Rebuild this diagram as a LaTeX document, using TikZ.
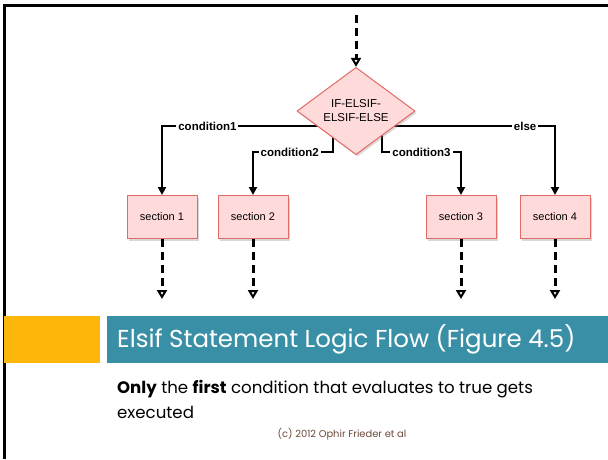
\documentclass[tikz,border=0pt]{standalone}
\usepackage{fontspec}
\setmainfont{Poppins}
\newfontfamily\chartfont{Liberation Sans}
\usepackage{xcolor}
\usetikzlibrary{shapes,arrows.meta,positioning,calc,shadows,backgrounds}

\definecolor{boxfill}{RGB}{255,218,218}
\definecolor{boxline}{RGB}{226,106,100}
\definecolor{bandorange}{RGB}{253,182,10}
\definecolor{bandteal}{RGB}{57,143,165}
\definecolor{notebrown}{RGB}{110,74,60}

\tikzset{
    block/.style={rectangle, draw=boxline, fill=boxfill, line width=1pt,
        minimum width=70pt, minimum height=43pt,
        font=\chartfont\fontsize{11}{13}\selectfont,
        drop shadow={opacity=0.3, shadow xshift=1.5pt, shadow yshift=-2pt}},
    decision/.style={diamond, draw=boxline, fill=boxfill, line width=1pt,
        minimum width=118pt, minimum height=68pt, inner sep=0pt, align=center,
        font=\chartfont\fontsize{11.5}{14}\selectfont,
        drop shadow={opacity=0.3, shadow xshift=1.5pt, shadow yshift=-2pt}},
    flow/.style={line width=2.5pt, -{Triangle[length=8pt, width=8pt]}},
    dashflow/.style={line width=3pt, dash pattern=on 8pt off 5pt,
        -{Triangle[length=9pt, width=10pt, fill=white, line width=2pt]}},
    cond/.style={fill=white, inner sep=2pt, font=\chartfont\bfseries\fontsize{11.5}{13}\selectfont}
}

\begin{document}
\begin{tikzpicture}[x=1pt, y=-1pt]
    \useasboundingbox (0,0) rectangle (608,459);

    \node[decision] (dec) at (356,111) {IF-ELSIF-\\ELSIF-ELSE};
    \node[block] (sec1) at (162,217) {section 1};
    \node[block] (sec2) at (253,217) {section 2};
    \node[block] (sec3) at (461,217) {section 3};
    \node[block] (sec4) at (555,217) {section 4};

    \coordinate (entry) at (356,15);
    \draw[dashflow] (entry) -- (dec);
    \foreach \s in {1,...,4} {
        \coordinate (out\s) at ($(sec\s.south)+(0,60)$);
        \draw[dashflow] (sec\s) -- (out\s);
    }

    \begin{scope}[on background layer]
        \fill[white] (0,0) rectangle (608,459);
        \draw[flow] ($(dec.center)+(0,15)$) -| node[cond, pos=0.383] {condition1} (sec1);
        \draw[flow] ($(dec.center)+(-23,17)$) |- node[cond, pos=0.77] {condition2} ($(sec2.north)+(0,-43)$) -- (sec2);
        \draw[flow] ($(dec.center)+(26,17)$) |- node[cond, pos=0.75] {condition3} ($(sec3.north)+(0,-43)$) -- (sec3);
        \draw[flow] ($(dec.center)+(0,15)$) -| node[cond, pos=0.425] {else} (sec4);
    \end{scope}

    \draw[line width=3pt] (3,5.5) -- (608,5.5);
    \draw[line width=3pt] (4.5,4) -- (4.5,459);

    \fill[bandorange] (4,316) rectangle (100,363);
    \fill[bandteal] (107,316) rectangle (608,363);
    \node[anchor=base west, inner sep=0pt, text=white, font=\fontsize{24.5}{28}\selectfont] (title) at (117,347) {Elsif Statement Logic Flow (Figure 4.5)};
    \node[anchor=base west, inner sep=0pt, align=left, font=\fontsize{16.6}{25}\selectfont] (note) at (117,418) {\textbf{Only} the \textbf{first} condition that evaluates to true gets\\executed};
    \node[anchor=base, inner sep=0pt, text=notebrown, font=\fontsize{9.9}{12}\selectfont] (credit) at (342,437) {(c) 2012 Ophir Frieder et al};
\end{tikzpicture}
\end{document}
